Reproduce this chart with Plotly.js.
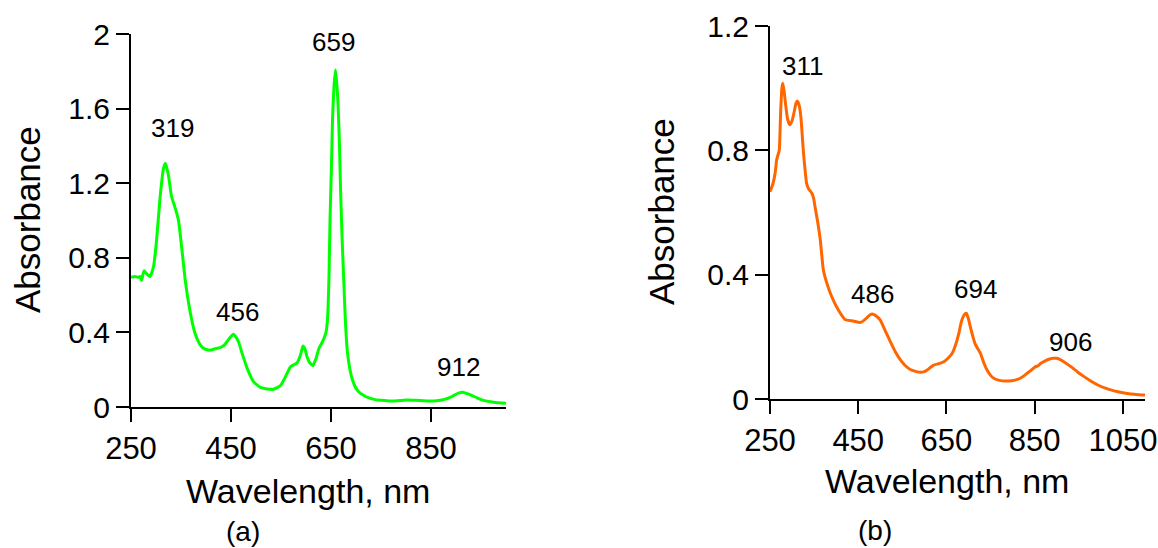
<!DOCTYPE html>
<html>
<head>
<meta charset="utf-8">
<script src="https://cdn.plot.ly/plotly-3.0.1.min.js"></script>
<style>
  html, body { margin: 0; padding: 0; background: #ffffff; }
  #chart { width: 1158px; height: 548px; }
</style>
</head>
<body>
<div id="chart"></div>
<script>
// ---- Panel (a): green spectrum ----
const wavelengthA = [250, 258, 265, 268, 271, 276, 281, 288, 295, 301, 308, 315, 319, 325, 331, 338, 345, 352, 358, 365,
  372, 378, 388, 398, 408, 418, 428, 436, 442, 449, 455, 460, 465, 472, 482, 495, 509, 522, 535, 549,
  559, 569, 577, 582, 589, 594, 598, 602, 608, 614, 620, 626, 632, 636, 640, 643, 646, 648, 651, 653,
  656, 659, 662, 664, 667, 669, 672, 676, 679, 683, 688, 693, 700, 709, 720, 736, 750, 770, 790, 803,
  820, 850, 865, 877, 887, 897, 905, 913, 921, 930, 943, 957, 975, 1000];
const absorbanceA = [0.695, 0.70, 0.695, 0.70, 0.68, 0.73, 0.715, 0.70, 0.752, 0.89, 1.12, 1.28, 1.307, 1.24, 1.13, 1.07, 1.0, 0.84, 0.69, 0.56,
  0.46, 0.395, 0.335, 0.31, 0.305, 0.312, 0.318, 0.33, 0.35, 0.375, 0.39, 0.375, 0.35, 0.29, 0.21, 0.136, 0.105, 0.097, 0.095, 0.115,
  0.163, 0.216, 0.228, 0.236, 0.279, 0.327, 0.31, 0.27, 0.235, 0.222, 0.26, 0.315, 0.345, 0.368, 0.40, 0.47, 0.70, 1.0, 1.30, 1.54,
  1.72, 1.807, 1.72, 1.63, 1.40, 1.18, 0.92, 0.645, 0.45, 0.29, 0.20, 0.145, 0.10, 0.073, 0.055, 0.041, 0.036, 0.032, 0.035, 0.038,
  0.036, 0.032, 0.035, 0.041, 0.05, 0.064, 0.074, 0.079, 0.073, 0.064, 0.048, 0.034, 0.026, 0.02];
const peaksA = [319, 456, 659, 912];
const peakLabelXA = [332, 463, 655, 904];
const peakLabelYA = [1.496, 0.509, 1.957, 0.214];

// ---- Panel (b): orange spectrum ----
const wavelengthB = [250, 257, 262, 265, 268, 271, 274, 277, 279, 282, 286, 290, 295, 300, 305, 309, 312, 316, 320, 323,
  326, 330, 333, 338, 345, 349, 352, 358, 364, 371, 379, 390, 405, 420, 439, 454, 463, 470, 477, 483,
  490, 500, 511, 523, 534, 546, 557, 568, 580, 591, 600, 606, 614, 621, 633, 644, 654, 663, 671, 678,
  684, 688, 692, 695, 699, 704, 710, 716, 721, 727, 735, 742, 750, 758, 770, 784, 798, 811, 822, 833,
  844, 852, 858, 864, 873, 882, 892, 900, 909, 920, 932, 947, 962, 977, 993, 1010, 1030, 1050, 1068, 1085, 1100];
const absorbanceB = [0.667, 0.694, 0.73, 0.769, 0.785, 0.80, 0.919, 1.0, 1.016, 0.99, 0.94, 0.90, 0.882, 0.895, 0.925, 0.952, 0.959, 0.945, 0.908, 0.85,
  0.79, 0.73, 0.694, 0.675, 0.662, 0.645, 0.619, 0.57, 0.512, 0.415, 0.372, 0.329, 0.286, 0.256, 0.251, 0.246, 0.253, 0.262, 0.271, 0.273,
  0.268, 0.254, 0.22, 0.184, 0.152, 0.125, 0.107, 0.095, 0.089, 0.086, 0.088, 0.093, 0.102, 0.109, 0.114, 0.12, 0.132, 0.147, 0.175, 0.211,
  0.25, 0.265, 0.274, 0.276, 0.262, 0.233, 0.2, 0.174, 0.162, 0.147, 0.115, 0.093, 0.076, 0.066, 0.06, 0.058, 0.059, 0.063, 0.071, 0.083,
  0.095, 0.104, 0.107, 0.115, 0.122, 0.128, 0.131, 0.131, 0.126, 0.116, 0.104, 0.087, 0.072, 0.058, 0.045, 0.035, 0.026, 0.02, 0.016, 0.014, 0.013];
const peaksB = [311, 486, 694, 906];
const peakLabelXB = [322.7, 482, 716, 932];
const peakLabelYB = [1.071, 0.338, 0.354, 0.183];

// ---- Tick labels ----
const xTicksA = [250, 450, 650, 850];
const xTicksB = [250, 450, 650, 850, 1050];
const yTicksA = [0, 0.4, 0.8, 1.2, 1.6, 2];
const yTickTextA = ['0', '0.4', '0.8', '1.2', '1.6', '2'];
const yTicksB = [0, 0.4, 0.8, 1.2];
const yTickTextB = ['0', '0.4', '0.8', '1.2'];

const W = 1158, H = 548;
const px = v => v / W;
const py = v => 1 - v / H;

const FONT = 'Liberation Sans, Arial, sans-serif';

const traces = [
  { x: wavelengthA, y: absorbanceA, xaxis: 'x', yaxis: 'y', type: 'scatter', mode: 'lines',
    line: { color: '#00ff00', width: 3, shape: 'spline', smoothing: 0.5 }, hoverinfo: 'x+y' },
  { x: wavelengthB, y: absorbanceB, xaxis: 'x2', yaxis: 'y2', type: 'scatter', mode: 'lines',
    line: { color: '#ff6600', width: 3, shape: 'spline', smoothing: 0.5 }, hoverinfo: 'x+y' }
];

function xAxis(domain, range, ticks, anchor) {
  return {
    domain: domain, range: range, anchor: anchor,
    tickmode: 'array', tickvals: ticks, ticktext: ticks.map(String),
    showline: true, linecolor: '#000', linewidth: 2,
    ticks: 'outside', ticklen: 13, tickwidth: 2, tickcolor: '#000',
    showgrid: false, zeroline: false,
    tickfont: { family: FONT, size: 31, color: '#000' },
    fixedrange: true
  };
}
function yAxis(domain, range, ticks, text, anchor) {
  return {
    domain: domain, range: range, anchor: anchor,
    tickmode: 'array', tickvals: ticks, ticktext: text,
    showline: true, linecolor: '#000', linewidth: 2,
    ticks: 'outside', ticklen: 13, tickwidth: 2, tickcolor: '#000',
    showgrid: false, zeroline: false,
    tickfont: { family: FONT, size: 30, color: '#000' },
    fixedrange: true
  };
}

const annotations = [];
peaksA.forEach((p, i) => annotations.push({
  x: peakLabelXA[i], y: peakLabelYA[i], xref: 'x', yref: 'y', text: String(p), showarrow: false,
  xanchor: 'center', yanchor: 'middle', font: { family: FONT, size: 26, color: '#000' }
}));
peaksB.forEach((p, i) => annotations.push({
  x: peakLabelXB[i], y: peakLabelYB[i], xref: 'x2', yref: 'y2', text: String(p), showarrow: false,
  xanchor: 'center', yanchor: 'middle', font: { family: FONT, size: 26, color: '#000' }
}));
const titleFontX = { family: FONT, size: 34, color: '#000' };
const titleFontY = { family: FONT, size: 35, color: '#000' };
annotations.push(
  { x: px(308), y: py(491), xref: 'paper', yref: 'paper', text: 'Wavelength, nm', showarrow: false, xanchor: 'center', yanchor: 'middle', font: titleFontX },
  { x: px(947), y: py(481), xref: 'paper', yref: 'paper', text: 'Wavelength, nm', showarrow: false, xanchor: 'center', yanchor: 'middle', font: titleFontX },
  { x: px(27), y: py(220), xref: 'paper', yref: 'paper', text: 'Absorbance', textangle: -90, showarrow: false, xanchor: 'center', yanchor: 'middle', font: titleFontY },
  { x: px(661), y: py(212), xref: 'paper', yref: 'paper', text: 'Absorbance', textangle: -90, showarrow: false, xanchor: 'center', yanchor: 'middle', font: titleFontY },
  { x: px(243), y: py(531), xref: 'paper', yref: 'paper', text: '(a)', showarrow: false, xanchor: 'center', yanchor: 'middle', font: { family: FONT, size: 28, color: '#000' } },
  { x: px(875), y: py(530), xref: 'paper', yref: 'paper', text: '(b)', showarrow: false, xanchor: 'center', yanchor: 'middle', font: { family: FONT, size: 28, color: '#000' } }
);

const layout = {
  width: W, height: H,
  margin: { l: 0, r: 0, t: 0, b: 0, pad: 0 },
  paper_bgcolor: '#ffffff', plot_bgcolor: '#ffffff',
  showlegend: false,
  font: { family: FONT, color: '#000' },
  xaxis: xAxis([px(131), px(506)], [250, 1000], xTicksA, 'y'),
  yaxis: yAxis([1 - 407 / H, 1 - 34 / H], [0, 2], yTicksA, yTickTextA, 'x'),
  xaxis2: xAxis([px(770), px(1145)], [250, 1100], xTicksB, 'y2'),
  yaxis2: yAxis([1 - 399 / H, 1 - 26 / H], [0, 1.2], yTicksB, yTickTextB, 'x2'),
  annotations: annotations
};

Plotly.newPlot('chart', traces, layout, { displayModeBar: false, staticPlot: true });
</script>
</body>
</html>
